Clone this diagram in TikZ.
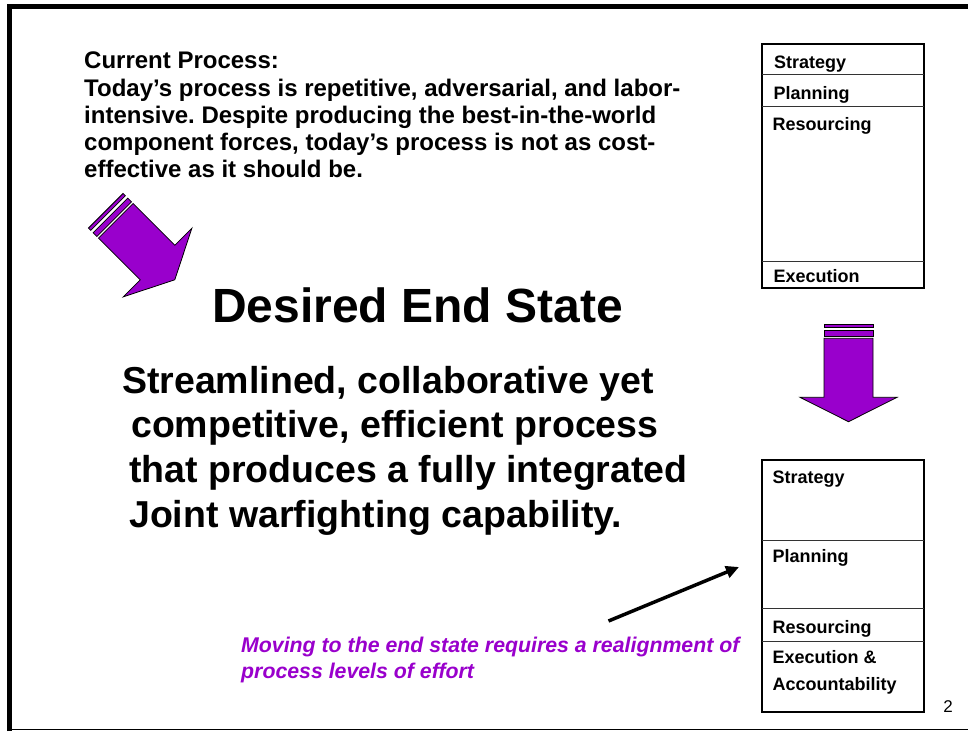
\documentclass[tikz,border=0pt]{standalone}
\usepackage{fontspec}
\setmainfont{Liberation Sans}
\usetikzlibrary{arrows.meta}
\definecolor{vio}{HTML}{9900CC}
\frenchspacing
\newcommand\blockarrow{%
  \filldraw[arrowfill] (-48.5,-24.4) -- (0,0) -- (48.5,-24.4) -- (24.5,-24.4) -- (24.5,-83.4) -- (-24.5,-83.4) -- (-24.5,-24.4) -- cycle;
  \filldraw[arrowfill] (-24.5,-91) rectangle (24.5,-85.7);
  \filldraw[arrowfill] (-24.5,-97.7) rectangle (24.5,-94.4);
}
\begin{document}
\begin{tikzpicture}[x=1pt,y=-1pt,
  arrowfill/.style={fill=vio, draw=black, line width=0.8pt, line join=miter},
  para/.style={anchor=base west, inner sep=0pt, font=\bfseries\fontsize{24}{27}\selectfont},
  big/.style={anchor=base west, inner sep=0pt, font=\bfseries\fontsize{37.5}{45}\selectfont},
  title/.style={anchor=base, inner sep=0pt, font=\bfseries\fontsize{48}{56}\selectfont},
  lbl/.style={anchor=base west, inner sep=0pt, font=\bfseries\fontsize{18}{21}\selectfont},
  note/.style={anchor=base west, inner sep=0pt, text=vio, font=\bfseries\itshape\fontsize{21.3}{25}\selectfont},
  boxframe/.style={draw=black, line width=2pt},
  divider/.style={draw=black!80, line width=0.9pt}]
\useasboundingbox (0,0) rectangle (968,731);
\fill[white] (0,0) rectangle (968,731);
% slide frame
\draw[line width=4.5pt] (9.5,731) -- (9.5,6.5) -- (968,6.5);
\draw[line width=1.2pt] (7,729.5) -- (968,729.5);

% top-left paragraph
\node[para] (p0) at (84,68.6) {Current Process:};
\node[para] (p1) at (84,96.6) {Today’s process is repetitive, adversarial, and labor-};
\node[para] (p2) at (84,123.6) {intensive. Despite producing the best-in-the-world};
\node[para] (p3) at (84,150.6) {component forces, today’s process is not as cost-};
\node[para] (p4) at (84,177.6) {effective as it should be.};

% diagonal block arrow
\begin{scope}[shift={(174.8,279.8)}, rotate=45]
  \blockarrow
\end{scope}

% title
\node[title] (title) at (417.5,322) {Desired End State};

% big statement
\node[big] (s1) at (122,393.4) {Streamlined, collaborative yet};
\node[big] (s2) at (131,437.4) {competitive, efficient process};
\node[big] (s3) at (129,482.4) {that produces a fully integrated};
\node[big] (s4) at (129,527.4) {Joint warfighting capability.};

% top right box
\draw[boxframe] (762,44) rectangle (924,288);
\draw[divider] (762,74) -- (924,74);
\draw[divider] (762,106.5) -- (924,106.5);
\draw[divider] (762,261.5) -- (924,261.5);
\node[lbl] (a1) at (774,68.3) {Strategy};
\node[lbl] (a2) at (773.5,99.3) {Planning};
\node[lbl] (a3) at (772.5,130.7) {Resourcing};
\node[lbl] (a4) at (773.5,282.3) {Execution};

% down block arrow
\begin{scope}[shift={(848.5,421.7)}]
  \blockarrow
\end{scope}

% bottom right box
\draw[boxframe] (762,460) rectangle (924,712);
\draw[divider] (762,540) -- (924,540);
\draw[divider] (762,608.5) -- (924,608.5);
\draw[divider] (762,641) -- (924,641);
\node[lbl] (b1) at (772.3,483.3) {Strategy};
\node[lbl] (b2) at (772.3,562.7) {Planning};
\node[lbl] (b3) at (772.3,633.3) {Resourcing};
\node[lbl] (b4) at (772.3,663) {Execution \&};
\node[lbl] (b5) at (772.3,690) {Accountability};

% small black arrow
\coordinate (ms) at (608.5,621);
\coordinate (me) at (739,567);
\draw[line width=3.5pt, -{Triangle[length=13pt,width=12pt]}] (ms) -- (me);

% note
\node[note] (n1) at (241,652.5) {Moving to the end state requires a realignment of};
\node[note] (n2) at (241,678.5) {process levels of effort};

% page number
\node[inner sep=0pt, font=\fontsize{17}{20}\selectfont] (pg) at (948,707) {2};
\end{tikzpicture}
\end{document}
